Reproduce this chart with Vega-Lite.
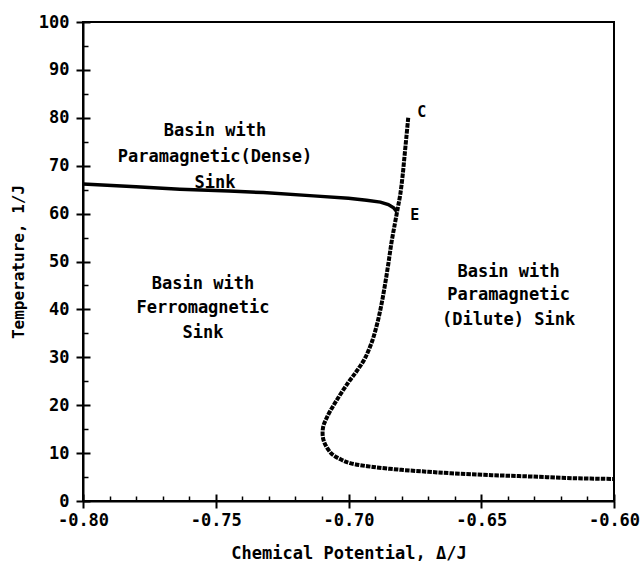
{
  "$schema": "https://vega.github.io/schema/vega-lite/v6.json",
  "width": 531,
  "height": 479,
  "autosize": "none",
  "padding": {"left": 83, "top": 22, "right": 30, "bottom": 67},
  "background": "white",
  "config": {
    "view": {"stroke": "black", "strokeWidth": 2},
    "font": "DejaVu Sans Mono",
    "text": {"font": "DejaVu Sans Mono"},
    "axis": {"grid": false, "domainColor": "black", "tickColor": "black", "labelColor": "black", "titleColor": "black", "labelFont": "DejaVu Sans Mono", "titleFont": "DejaVu Sans Mono", "labelFontWeight": "bold", "titleFontWeight": "bold"}
  },
  "datasets": {
    "curves": [
      {"curve": "solid", "i": 1, "mu": -0.800, "T": 66.2},
      {"curve": "solid", "i": 2, "mu": -0.780, "T": 65.6},
      {"curve": "solid", "i": 3, "mu": -0.7635, "T": 65.1},
      {"curve": "solid", "i": 4, "mu": -0.745, "T": 64.7},
      {"curve": "solid", "i": 5, "mu": -0.7321, "T": 64.4},
      {"curve": "solid", "i": 6, "mu": -0.7132, "T": 63.7},
      {"curve": "solid", "i": 7, "mu": -0.700, "T": 63.2},
      {"curve": "solid", "i": 8, "mu": -0.6932, "T": 62.8},
      {"curve": "solid", "i": 9, "mu": -0.6880, "T": 62.4},
      {"curve": "solid", "i": 10, "mu": -0.6850, "T": 61.9},
      {"curve": "solid", "i": 11, "mu": -0.6830, "T": 61.2},
      {"curve": "solid", "i": 12, "mu": -0.6818, "T": 60.4},
      {"curve": "dashed", "i": 1, "mu": -0.6775, "T": 80.0},
      {"curve": "dashed", "i": 2, "mu": -0.6782, "T": 76.0},
      {"curve": "dashed", "i": 3, "mu": -0.6789, "T": 72.0},
      {"curve": "dashed", "i": 4, "mu": -0.6796, "T": 68.0},
      {"curve": "dashed", "i": 5, "mu": -0.6805, "T": 64.0},
      {"curve": "dashed", "i": 6, "mu": -0.6815, "T": 61.0},
      {"curve": "dashed", "i": 7, "mu": -0.6825, "T": 58.0},
      {"curve": "dashed", "i": 8, "mu": -0.6838, "T": 54.0},
      {"curve": "dashed", "i": 9, "mu": -0.6850, "T": 49.5},
      {"curve": "dashed", "i": 10, "mu": -0.6863, "T": 45.0},
      {"curve": "dashed", "i": 11, "mu": -0.6876, "T": 41.0},
      {"curve": "dashed", "i": 12, "mu": -0.6892, "T": 37.0},
      {"curve": "dashed", "i": 13, "mu": -0.6912, "T": 33.2},
      {"curve": "dashed", "i": 14, "mu": -0.6938, "T": 29.8},
      {"curve": "dashed", "i": 15, "mu": -0.6968, "T": 27.2},
      {"curve": "dashed", "i": 16, "mu": -0.7000, "T": 24.8},
      {"curve": "dashed", "i": 17, "mu": -0.7045, "T": 21.0},
      {"curve": "dashed", "i": 18, "mu": -0.7080, "T": 17.6},
      {"curve": "dashed", "i": 19, "mu": -0.7096, "T": 15.3},
      {"curve": "dashed", "i": 20, "mu": -0.7094, "T": 12.7},
      {"curve": "dashed", "i": 21, "mu": -0.7066, "T": 10.0},
      {"curve": "dashed", "i": 22, "mu": -0.7030, "T": 8.7},
      {"curve": "dashed", "i": 23, "mu": -0.6994, "T": 7.9},
      {"curve": "dashed", "i": 24, "mu": -0.6907, "T": 7.1},
      {"curve": "dashed", "i": 25, "mu": -0.6800, "T": 6.5},
      {"curve": "dashed", "i": 26, "mu": -0.6700, "T": 6.1},
      {"curve": "dashed", "i": 27, "mu": -0.6614, "T": 5.8},
      {"curve": "dashed", "i": 28, "mu": -0.6460, "T": 5.4},
      {"curve": "dashed", "i": 29, "mu": -0.6305, "T": 5.1},
      {"curve": "dashed", "i": 30, "mu": -0.6150, "T": 4.75},
      {"curve": "dashed", "i": 31, "mu": -0.6000, "T": 4.6}
    ],
    "labels": [
      {"mu": -0.7503, "T": 77.2, "text": "Basin with", "kind": "region"},
      {"mu": -0.7503, "T": 71.8, "text": "Paramagnetic(Dense)", "kind": "region"},
      {"mu": -0.7503, "T": 66.4, "text": "Sink", "kind": "region"},
      {"mu": -0.7548, "T": 45.3, "text": "Basin with", "kind": "region"},
      {"mu": -0.7548, "T": 40.3, "text": "Ferromagnetic", "kind": "region"},
      {"mu": -0.7548, "T": 35.1, "text": "Sink", "kind": "region"},
      {"mu": -0.6397, "T": 47.8, "text": "Basin with", "kind": "region"},
      {"mu": -0.6397, "T": 43.0, "text": "Paramagnetic", "kind": "region"},
      {"mu": -0.6397, "T": 37.8, "text": "(Dilute) Sink", "kind": "region"},
      {"mu": -0.6724, "T": 81.3, "text": "C", "kind": "point"},
      {"mu": -0.6750, "T": 59.7, "text": "E", "kind": "point"}
    ]
  },
  "resolve": {"axis": {"x": "independent", "y": "independent"}},
  "layer": [
    {
      "data": {"name": "curves"},
      "transform": [{"filter": "datum.curve === 'solid'"}],
      "mark": {"type": "line", "color": "black", "strokeWidth": 3.5},
      "encoding": {
        "x": {"field": "mu", "type": "quantitative", "scale": {"domain": [-0.8, -0.6], "nice": false, "zero": false},
          "axis": {"orient": "bottom", "title": "Chemical Potential, Δ/J", "values": [-0.8, -0.75, -0.7, -0.65, -0.6], "labelExpr": "replace(format(datum.value, '.2f'), '\u2212', '-')", "labelFontSize": 17, "titleFontSize": 17, "tickSize": 7, "tickWidth": 2, "domainWidth": 2, "labelPadding": 4, "titlePadding": 17, "labelFlush": false}},
        "y": {"field": "T", "type": "quantitative", "scale": {"domain": [0, 100], "nice": false},
          "axis": {"orient": "left", "title": "Temperature, 1/J", "values": [0, 10, 20, 30, 40, 50, 60, 70, 80, 90, 100], "labelFontSize": 17, "titleFontSize": 16, "tickSize": 7, "tickWidth": 2, "domainWidth": 2, "labelPadding": 7, "titlePadding": 12, "labelFlush": false}},
        "order": {"field": "i", "type": "quantitative"}
      }
    },
    {
      "data": {"name": "curves"},
      "transform": [{"filter": "datum.curve === 'dashed'"}],
      "mark": {"type": "line", "color": "black", "strokeWidth": 4, "strokeDash": [4.5, 1.1], "interpolate": "catmull-rom"},
      "encoding": {
        "x": {"field": "mu", "type": "quantitative",
          "axis": {"orient": "bottom", "title": null, "labels": false, "domain": false, "offset": -7, "values": [-0.8, -0.75, -0.7, -0.65, -0.6], "tickSize": 7, "tickWidth": 2}},
        "y": {"field": "T", "type": "quantitative",
          "axis": {"orient": "left", "title": null, "labels": false, "domain": false, "offset": -7, "values": [0, 10, 20, 30, 40, 50, 60, 70, 80, 90, 100], "tickSize": 7, "tickWidth": 2}},
        "order": {"field": "i", "type": "quantitative"}
      }
    },
    {
      "data": {"name": "labels"},
      "mark": {"type": "text", "font": "DejaVu Sans Mono", "fontWeight": "bold", "color": "black", "align": "center", "baseline": "middle"},
      "encoding": {
        "x": {"field": "mu", "type": "quantitative",
          "axis": {"orient": "bottom", "title": null, "labels": false, "domain": false, "offset": -5, "values": [-0.79, -0.78, -0.77, -0.76, -0.74, -0.73, -0.72, -0.71, -0.69, -0.68, -0.67, -0.66, -0.64, -0.63, -0.62, -0.61], "tickSize": 5, "tickWidth": 1.5}},
        "y": {"field": "T", "type": "quantitative",
          "axis": {"orient": "left", "title": null, "labels": false, "domain": false, "offset": -5, "values": [5, 15, 25, 35, 45, 55, 65, 75, 85, 95], "tickSize": 5, "tickWidth": 1.5}},
        "text": {"field": "text", "type": "nominal"},
        "size": {"field": "kind", "type": "nominal", "scale": {"domain": ["region", "point"], "range": [17, 15]}, "legend": null}
      }
    }
  ]
}
